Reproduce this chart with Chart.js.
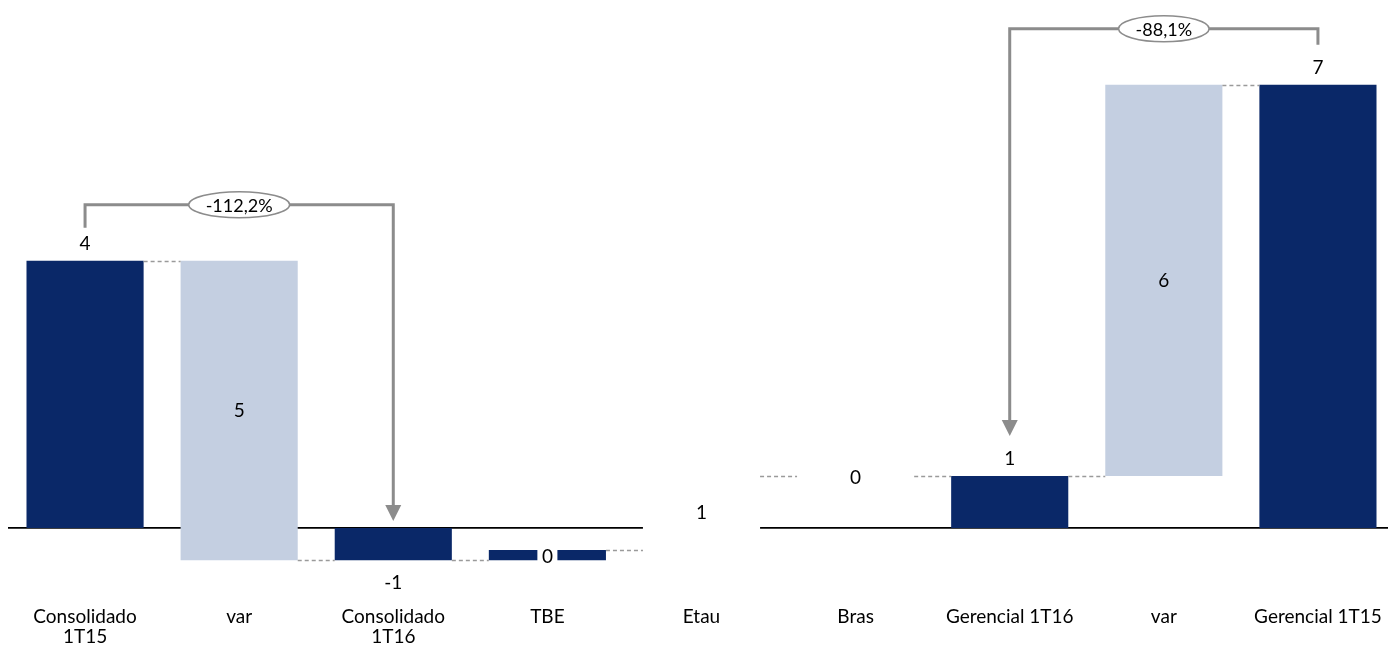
<!DOCTYPE html>
<html>
<head>
<title>Waterfall Consolidado / Gerencial</title>
<script src="https://cdn.jsdelivr.net/npm/chart.js"></script>
<style>
  body { margin: 0; overflow: hidden; background: #fff; }
  #wrap { width: 1396px; height: 650px; }
</style>
</head>
<body>
<div id="wrap"><canvas id="myChart"></canvas></div>
<script>
// categorias e valores (waterfall: início e fim de cada barra)
const categories = [['Consolidado', '1T15'], 'var', ['Consolidado', '1T16'], 'TBE', 'Etau', 'Bras', 'Gerencial 1T16', 'var', 'Gerencial 1T15'];
const barStart = [0, 4.22, 0, -0.51, -0.35, 0.82, 0, 0.82, 0];
const barEnd = [4.22, -0.51, -0.51, -0.35, 0.82, 0.82, 0.82, 7.0, 7.0];
const valueLabels = ['4', '5', '-1', '0', '1', '0', '1', '6', '7'];
const labelPos = ['top', 'mid', 'bottom', 'mid', 'mid', 'mid', 'top', 'mid', 'top'];
const barKind = ['total', 'var', 'total', 'total', 'blank', 'blank', 'total', 'var', 'total'];
const brackets = [
  { from: 0, to: 2, text: '-112,2%' },
  { from: 8, to: 6, text: '-88,1%' }
];

const DARK = '#0a2868';
const LIGHT = '#c4cfe1';
const FONT = 'Lato';
const kindColor = { total: DARK, var: LIGHT, blank: '#ffffff' };

const ctx = document.getElementById('myChart').getContext('2d');

// linha do zero, conectores, rótulos e setas
const wfPlugin = {
  id: 'wf',
  beforeDatasetsDraw(chart) {
    const { ctx, chartArea, scales: { y } } = chart;
    const y0 = y.getPixelForValue(0);
    ctx.save();
    ctx.strokeStyle = '#000';
    ctx.lineWidth = 1.6;
    ctx.beginPath();
    ctx.moveTo(chartArea.left, y0);
    ctx.lineTo(chartArea.right, y0);
    ctx.stroke();
    ctx.restore();
  },
  afterDatasetsDraw(chart) {
    const { ctx, scales: { y } } = chart;
    const bars = chart.getDatasetMeta(0).data;
    ctx.save();

    // conectores tracejados
    ctx.strokeStyle = '#9a9a9a';
    ctx.lineWidth = 1.3;
    ctx.setLineDash([4, 3]);
    for (let i = 0; i < bars.length - 1; i++) {
      const py = Math.round(y.getPixelForValue(barEnd[i])) + 0.5;
      ctx.beginPath();
      ctx.moveTo(bars[i].x + bars[i].width / 2, py);
      ctx.lineTo(bars[i + 1].x - bars[i + 1].width / 2, py);
      ctx.stroke();
    }
    ctx.setLineDash([]);

    // rótulos de valor
    ctx.font = '19px ' + FONT;
    ctx.textAlign = 'center';
    ctx.textBaseline = 'middle';
    bars.forEach((b, i) => {
      const top = Math.min(b.y, b.base), bot = Math.max(b.y, b.base);
      let ty;
      if (labelPos[i] === 'top') ty = top - 17;
      else if (labelPos[i] === 'bottom') ty = bot + 23;
      else ty = (top + bot) / 2 + (bot - top < 20 ? 2 : 0);
      if (labelPos[i] === 'mid' && bot - top < 20) {
        const w = ctx.measureText(valueLabels[i]).width + 9;
        ctx.fillStyle = '#fff';
        ctx.fillRect(b.x - w / 2, ty - 10, w, 20);
      }
      ctx.fillStyle = '#000';
      ctx.fillText(valueLabels[i], b.x, ty);
    });

    // colchetes com variação percentual
    brackets.forEach(br => {
      const a = bars[br.from], c = bars[br.to];
      const topA = Math.min(a.y, a.base), topC = Math.min(c.y, c.base);
      const hy = Math.min(topA, topC) - 56;
      const startY = topA - (br.from === 0 ? 33 : 40);
      const tipY = topC - (labelPos[br.to] === 'top' ? 40 : 7);
      ctx.strokeStyle = '#8c8c8c';
      ctx.fillStyle = '#8c8c8c';
      ctx.lineWidth = 3;
      ctx.beginPath();
      ctx.moveTo(a.x, startY);
      ctx.lineTo(a.x, hy);
      ctx.lineTo(c.x, hy);
      ctx.lineTo(c.x, tipY - 15);
      ctx.stroke();
      ctx.beginPath();
      ctx.moveTo(c.x - 8, tipY - 16);
      ctx.lineTo(c.x + 8, tipY - 16);
      ctx.lineTo(c.x, tipY);
      ctx.closePath();
      ctx.fill();

      const mx = (a.x + c.x) / 2;
      ctx.font = '18px ' + FONT;
      const tw = ctx.measureText(br.text).width;
      ctx.beginPath();
      ctx.ellipse(mx, hy, tw / 2 + 17, 13, 0, 0, Math.PI * 2);
      ctx.fillStyle = '#fff';
      ctx.fill();
      ctx.lineWidth = 1.5;
      ctx.strokeStyle = '#8c8c8c';
      ctx.stroke();
      ctx.fillStyle = '#000';
      ctx.fillText(br.text, mx, hy + 1);
    });
    ctx.restore();
  }
};

new Chart(ctx, {
  type: 'bar',
  data: {
    labels: categories,
    datasets: [{
      data: barStart.map((s, i) => [s, barEnd[i]]),
      backgroundColor: barKind.map(k => kindColor[k]),
      borderWidth: 0,
      borderSkipped: false,
      categoryPercentage: 1,
      barPercentage: 0.76
    }]
  },
  options: {
    responsive: true,
    maintainAspectRatio: false,
    animation: false,
    layout: { padding: { left: 8, right: 1, top: 5, bottom: 0 } },
    plugins: { legend: { display: false }, tooltip: { enabled: false } },
    scales: {
      x: {
        grid: { display: false, drawTicks: false },
        border: { display: false },
        ticks: { color: '#000', font: { family: FONT, size: 19, lineHeight: 1.05 }, padding: 12, maxRotation: 0, autoSkip: false },
        afterFit: s => { s.height = 55; }
      },
      y: {
        min: -1.06,
        max: 8.26,
        grid: { display: false },
        border: { display: false },
        ticks: { display: false },
        afterFit: s => { s.width = 0; }
      }
    }
  },
  plugins: [wfPlugin]
});
</script>
</body>
</html>
